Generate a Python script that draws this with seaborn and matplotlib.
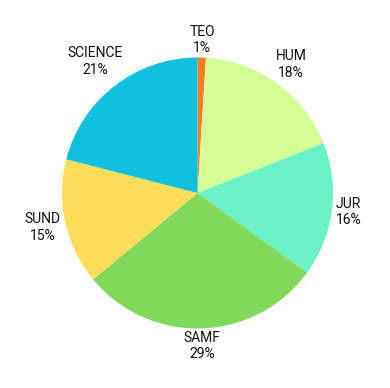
import matplotlib
matplotlib.use("Agg")
import matplotlib.pyplot as plt
import seaborn as sns
import numpy as np

sns.set_style("white")

categories = ["TEO", "HUM", "JUR", "SAMF", "SUND", "SCIENCE"]
values = [1, 18, 16, 29, 15, 21]
colors = ["#fb7b1e", "#d5fd95", "#6af1c6", "#80d95a", "#fedd5b", "#0fc1de"]

plt.rcParams["font.family"] = ["Roboto", "DejaVu Sans"]

fig = plt.figure(figsize=(3.90, 3.88), dpi=100)
ax = fig.add_axes([0, 0, 1, 1])
R = 135.5
GAP = 2.0
wedges, _ = ax.pie(values, colors=sns.color_palette(colors),
                   startangle=90, counterclock=False, radius=1,
                   wedgeprops=dict(linewidth=0))
ax.set_xlim(-197.5 / R, (390 - 197.5) / R)
ax.set_ylim(-195 / R, (388 - 195) / R)
ax.set_aspect("auto")
ax.axis("off")

renderer = fig.canvas.get_renderer()
for w, c, v in zip(wedges, categories, values):
    th = np.deg2rad((w.theta1 + w.theta2) / 2)
    t = ax.text(0, 0, f"{c}\n{v}%", ha="center", va="center", fontsize=10,
                color="#111111", linespacing=1.2)
    bb = t.get_window_extent(renderer)
    d = R + GAP + abs(np.cos(th)) * bb.width / 2 + abs(np.sin(th)) * bb.height / 2
    t.set_position((d / R * np.cos(th), d / R * np.sin(th)))

fig.savefig("out.png", dpi=100)
